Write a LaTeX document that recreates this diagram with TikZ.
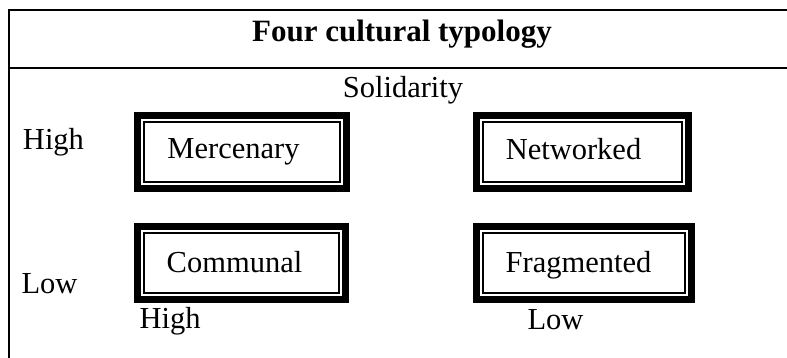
\documentclass[tikz,border=0pt]{standalone}
\usepackage{fontspec}
\setmainfont{Liberation Serif}
\usetikzlibrary{calc}
\begin{document}
\begin{tikzpicture}[x=1pt,y=-1pt,
  lbl/.style={inner sep=0pt, anchor=base, font=\fontsize{30.5}{36}\selectfont},
  ttl/.style={inner sep=0pt, anchor=base, font=\fontsize{31}{36}\selectfont\bfseries},
  tbox/.style={draw, line width=7pt, inner sep=0pt, outer sep=3.5pt, minimum height=73pt},
  thinbox/.style={draw, line width=2pt},
  frameline/.style={line width=2pt}
]
\useasboundingbox (0,0) rectangle (787,358);
% frame
\coordinate (ftr) at (787,10.3);
\coordinate (ftl) at (9.3,10.3);
\coordinate (fbl) at (9.3,358);
\coordinate (fsl) at (9.3,68.3);
\coordinate (fsr) at (787,68.3);
\draw[frameline] (ftr) -- (ftl) -- (fbl);
\draw[frameline] (fsl) -- (fsr);
% boxes (anchors lie on the outer edge of the thick line)
\node[tbox, minimum width=209pt] (bm) at (242,152) {};
\node[tbox, minimum width=212pt] (bn) at (582.5,152.5) {};
\node[tbox, minimum width=208pt] (bc) at (241.5,263) {};
\node[tbox, minimum width=215pt] (bf) at (584,263) {};
\draw[thinbox] ($(bm.north west)+(10,10)$) rectangle ($(bm.south east)+(-10,-10)$);
\draw[thinbox] ($(bn.north west)+(10,10)$) rectangle ($(bn.south east)+(-10,-10)$);
\draw[thinbox] ($(bc.north west)+(10,10)$) rectangle ($(bc.south east)+(-10,-10)$);
\draw[thinbox] ($(bf.north west)+(10,10)$) rectangle ($(bf.south east)+(-10,-10)$);
% texts
\node[ttl] (title) at (402,41.7) {Four cultural typology};
\node[lbl] (sol) at (403,98) {Solidarity};
\node[lbl] (hy) at (53.5,150) {High};
\node[lbl] (ly) at (49.5,293) {Low};
\node[lbl] (hx) at (170,328) {High};
\node[lbl] (lx) at (555.5,329) {Low};
\node[lbl] (tm) at (233.5,158.5) {Mercenary};
\node[lbl] (tn) at (573.5,160) {Networked};
\node[lbl] (tc) at (234.5,272.5) {Communal};
\node[lbl] (tf) at (578.5,272.5) {Fragmented};
\end{tikzpicture}
\end{document}
